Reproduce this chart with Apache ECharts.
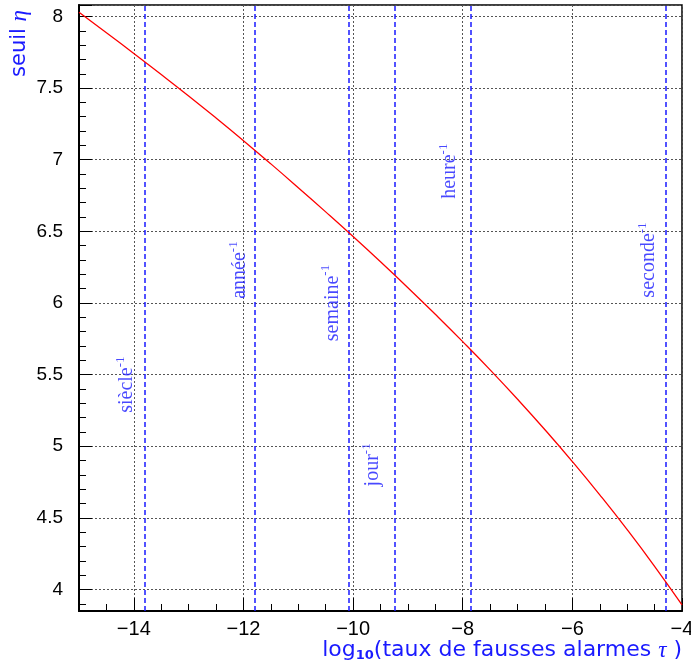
<!DOCTYPE html>
<html><head><meta charset="utf-8">
<script src="https://cdn.jsdelivr.net/npm/echarts@6/dist/echarts.min.js"></script>
<style>html,body{margin:0;padding:0;background:#fff}#c{width:691px;height:663px}</style>
</head><body><div id="c"></div>
<script>
// Threshold curve
const curveX = [-15,-14.5,-14,-13.5,-13,-12.5,-12,-11.5,-11,-10.5,-10,-9.5,-9,-8.5,-8,-7.5,-7,-6.5,-6,-5.5,-5,-4.5,-4];
const curveY = [8.03,7.887,7.742,7.595,7.445,7.291,7.133,6.971,6.805,6.636,6.464,6.288,6.107,5.921,5.730,5.533,5.328,5.115,4.893,4.661,4.418,4.162,3.892];
// Time-scale markers
const markerNames = ['siècle','année','semaine','jour','heure','seconde'];
const markerX = [-13.80,-11.80,-10.08,-9.24,-7.86,-4.30];
const labelX = [-14.12,-12.06,-10.38,-9.64,-8.23,-4.60];
const labelY = [5.43,6.23,6.00,4.87,6.92,6.30];
// Axis ranges
const xRange = [-15,-4];
const yRange = [3.85,8.08];

const blue = '#1a1aff';
const chart = echarts.init(document.getElementById('c'), null, {renderer:'canvas'});
const sans = 'Liberation Sans';
const nameFont = 'DejaVu Sans';
const serif = 'Liberation Serif';
chart.setOption({
  animation:false,
  backgroundColor:'#fff',
  grid:{left:79,right:9,top:5,bottom:52,show:true,borderColor:'#000',borderWidth:1.5,backgroundColor:'transparent',
        outerBoundsMode:'none',containLabel:false},
  xAxis:{
    type:'value', min:xRange[0], max:xRange[1], splitNumber:5, minInterval:2, maxInterval:2,
    name:'{a|log}{sub|10}{a|(taux de fausses alarmes }{i|τ}{a| )}',
    nameLocation:'end', nameGap:0,
    nameTextStyle:{align:'right',verticalAlign:'top',padding:[28,0,0,0],
      rich:{a:{fontFamily:nameFont,fontSize:22,color:blue},sub:{fontFamily:nameFont,fontSize:13,color:blue,fontWeight:'bold',verticalAlign:'bottom'},i:{fontFamily:serif,fontSize:23,fontStyle:'italic',color:blue}}},
    axisLine:{show:true,onZero:false,lineStyle:{color:'#000',width:2}},
    axisTick:{show:true,inside:true,length:13,lineStyle:{color:'#000',width:1}},
    minorTick:{show:true,splitNumber:4,length:7,lineStyle:{color:'#000',width:1}},
    axisLabel:{fontFamily:sans,fontSize:20,color:'#000',margin:8,showMinLabel:false,
      formatter:v=> v<0 ? '\u2212'+Math.abs(v) : String(v)},
    splitLine:{show:true,lineStyle:{color:'#555',type:[2,2],width:1}}
  },
  yAxis:{
    type:'value', min:yRange[0], max:yRange[1], splitNumber:8, minInterval:0.5, maxInterval:0.5,
    name:'{a|seuil }{i|η}', nameLocation:'end', nameGap:-5, nameRotate:90,
    nameTextStyle:{align:'right',verticalAlign:'bottom',padding:[0,0,48,0],
      rich:{a:{fontFamily:nameFont,fontSize:21,color:blue},i:{fontFamily:serif,fontSize:23,fontStyle:'italic',color:blue}}},
    axisLine:{show:true,onZero:false,lineStyle:{color:'#000',width:2}},
    axisTick:{show:true,inside:true,length:13,lineStyle:{color:'#000',width:1}},
    minorTick:{show:true,splitNumber:5,length:7,lineStyle:{color:'#000',width:1}},
    axisLabel:{fontFamily:sans,fontSize:19,color:'#000',margin:16,showMinLabel:false,showMaxLabel:false},
    splitLine:{show:true,lineStyle:{color:'#555',type:[2,2],width:1}}
  },
  series:[
    {type:'line', data:curveX.map((x,i)=>[x,curveY[i]]), smooth:true, showSymbol:false,
     lineStyle:{color:'#ff0000',width:1.3}, z:5},
    {type:'scatter', symbolSize:0, data:labelX.map((x,i)=>[x,labelY[i]]), z:6,
     label:{show:true, position:'inside', rotate:90,
       formatter:p=>'{m|'+markerNames[p.dataIndex]+'}{s|-1}',
       rich:{m:{fontFamily:serif,fontSize:20,color:blue,lineHeight:26},
             s:{fontFamily:serif,fontSize:13,color:blue,verticalAlign:'top',lineHeight:13}}},
     markLine:{silent:true, symbol:['none','none'], label:{show:false},
       lineStyle:{color:blue,type:[5,3],width:1.5},
       data:markerX.map(x=>({xAxis:x}))}}
  ]
});
</script></body></html>
